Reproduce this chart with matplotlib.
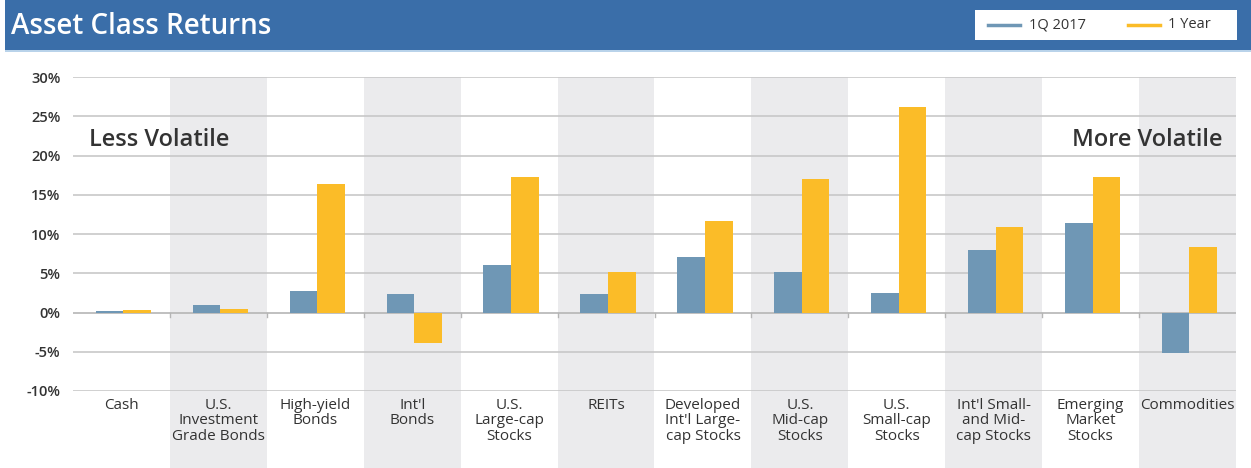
import matplotlib
matplotlib.use('agg')
import matplotlib.pyplot as plt
from matplotlib.patches import Rectangle
from matplotlib.lines import Line2D
from matplotlib.transforms import blended_transform_factory
import numpy as np

categories = ['Cash', 'U.S.\nInvestment\nGrade Bonds', 'High-yield\nBonds', "Int'l\nBonds",
              'U.S.\nLarge-cap\nStocks', 'REITs', "Developed\nInt'l Large-\ncap Stocks",
              'U.S.\nMid-cap\nStocks', 'U.S.\nSmall-cap\nStocks', "Int'l Small-\nand Mid-\ncap Stocks",
              'Emerging\nMarket\nStocks', 'Commodities']
q1_2017 = [0.2, 0.9, 2.7, 2.4, 6.0, 2.4, 7.1, 5.1, 2.5, 7.9, 11.4, -5.1]
one_year = [0.3, 0.4, 16.4, -3.9, 17.2, 5.1, 11.6, 17.0, 26.2, 10.9, 17.2, 8.3]
yticks = [-10, -5, 0, 5, 10, 15, 20, 25, 30]

BLUE = '#6f97b5'
GOLD = '#fbbc28'
HEADER = '#3a6ea9'
TXT = '#333333'
plt.rcParams['font.family'] = ['Open Sans', 'DejaVu Sans']

W, H = 1251, 468
fig = plt.figure(figsize=(W / 100, H / 100), dpi=100)
fig.patch.set_facecolor('white')

# header band
fig.patches.append(Rectangle((5 / W, 1 - 50 / H), 1, 50 / H, transform=fig.transFigure,
                             facecolor=HEADER, edgecolor='none', zorder=0))
fig.patches.append(Rectangle((5 / W, 1 - 52 / H), 1, 2 / H, transform=fig.transFigure,
                             facecolor='#b9d3ea', edgecolor='none', zorder=0))
fig.text(11 / W, 1 - 26 / H, 'Asset Class Returns', color='white', fontsize=20,
         fontweight='semibold', va='center', ha='left')

# legend box
fig.patches.append(Rectangle((975 / W, 1 - 40 / H), 262 / W, 30 / H, transform=fig.transFigure,
                             facecolor='white', edgecolor='none', zorder=1))
fig.lines.append(Line2D([988 / W, 1020 / W], [1 - 25 / H] * 2, transform=fig.transFigure,
                        color=BLUE, lw=2.5, zorder=2))
fig.text(1029 / W, 1 - 25 / H, '1Q 2017', color=TXT, fontsize=10.5, va='center', ha='left')
fig.lines.append(Line2D([1128 / W, 1160 / W], [1 - 25 / H] * 2, transform=fig.transFigure,
                        color=GOLD, lw=2.5, zorder=2))
fig.text(1168 / W, 1 - 25 / H, '1 Year', color=TXT, fontsize=10.5, va='center', ha='left')

left, right, top, bottom = 73, 1236, 77, 391
ax = fig.add_axes([left / W, 1 - bottom / H, (right - left) / W, (bottom - top) / H])
ax.set_facecolor('none')

x = np.arange(len(categories))
ax.set_xlim(-0.5, len(categories) - 0.5)
ax.set_ylim(-10, 30)

# alternating shaded bands, extending below the axis under the labels
trans = blended_transform_factory(ax.transData, ax.transAxes)
ext = (H - bottom) / (bottom - top)
for i in x:
    if i % 2 == 1:
        ax.add_patch(Rectangle((i - 0.5, -ext), 1, 1 + ext, transform=trans,
                               facecolor='#ebebed', edgecolor='none', zorder=0, clip_on=False))

for t in yticks:
    ax.axhline(t, color='#c8c8c8' if t != 0 else '#b5b5b5', lw=1.2, zorder=1)

w = 0.285
ax.bar(x - w / 2 + 0.02, q1_2017, width=w, color=BLUE, zorder=3)
ax.bar(x + w / 2 + 0.02, one_year, width=w, color=GOLD, zorder=3)

# small ticks at category boundaries below zero line
for b in x[1:] - 0.5:
    ax.plot([b, b], [0, -0.6], color='#b5b5b5', lw=1, zorder=2)

ax.set_yticks(yticks)
ax.set_yticklabels(['{}%'.format(t) for t in yticks], fontsize=10.5, fontweight='semibold', color=TXT)
ax.set_xticks(x)
ax.set_xticklabels(categories, fontsize=11, color=TXT, linespacing=1.05, va='top')
ax.tick_params(axis='both', length=0)
ax.tick_params(axis='x', pad=5)
ax.tick_params(axis='y', pad=9)
for s in ax.spines.values():
    s.set_visible(False)

ax.text(-0.33, 22.0, 'Less Volatile', fontsize=17, fontweight='semibold', color=TXT,
        ha='left', va='center', zorder=4)
ax.text(11.36, 22.0, 'More Volatile', fontsize=17, fontweight='semibold', color=TXT,
        ha='right', va='center', zorder=4)

fig.savefig('out.png', dpi=100)
